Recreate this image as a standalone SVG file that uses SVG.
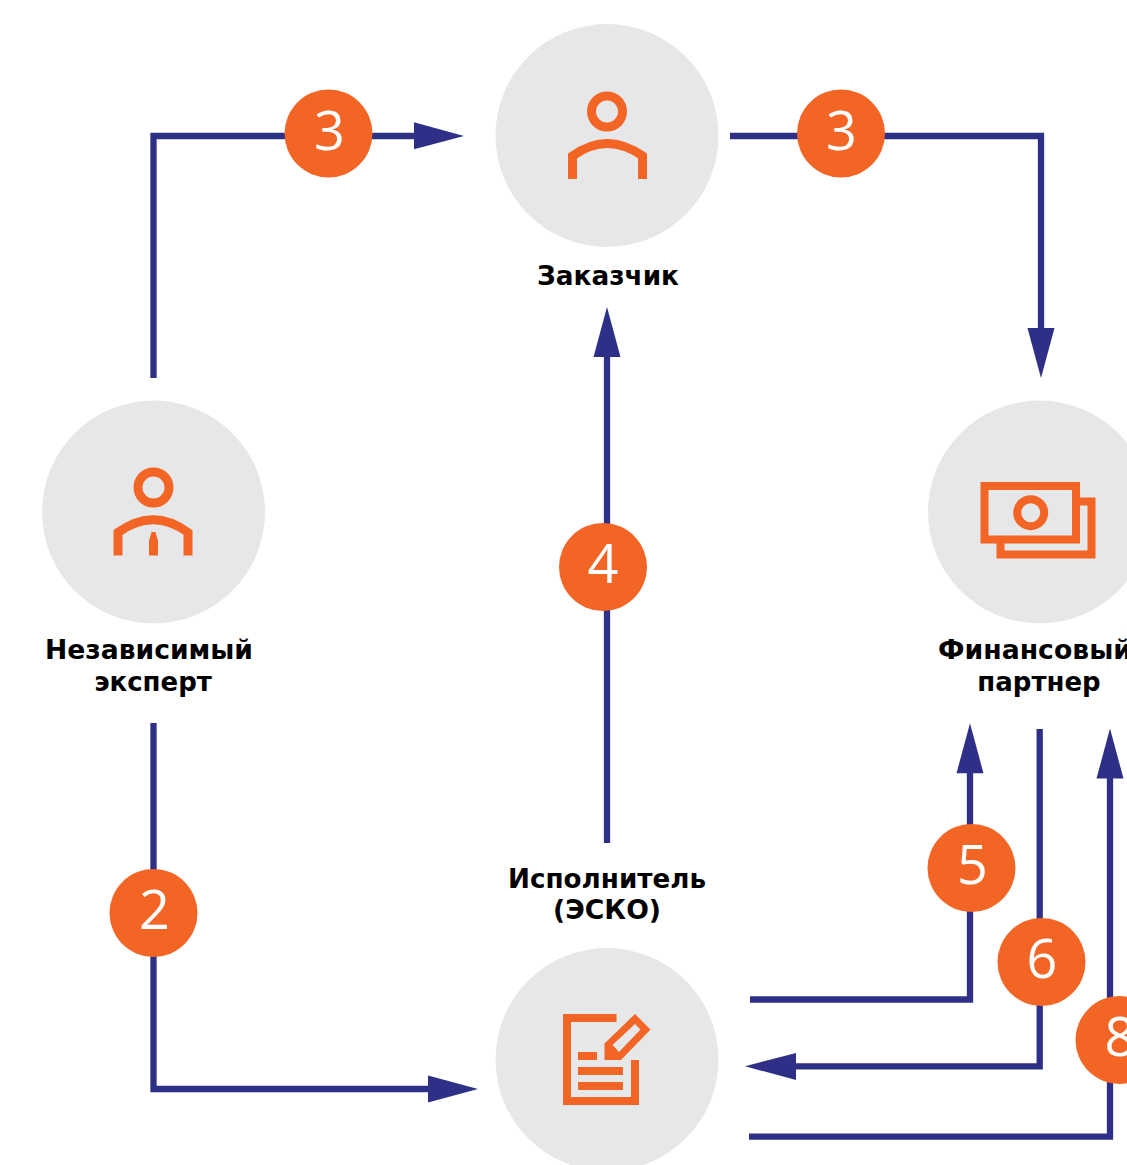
<svg xmlns="http://www.w3.org/2000/svg" width="1127" height="1165" viewBox="0 0 1127 1165">
<style>
.c{fill:#e6e7e8}
.i{fill:none;stroke:#f36525;stroke-width:8}
.f{fill:#f36525;stroke:none}
.l{font:bold 26px "DejaVu Sans",sans-serif;fill:#000;text-anchor:middle}
.n{font:54px "Open Sans","DejaVu Sans",sans-serif;fill:#fff;text-anchor:middle}
.w{fill:none;stroke:#2e3087;stroke-width:6.300}
.a{fill:#2e3087}
.b{fill:#f36525}
</style>
<rect width="1127" height="1165" fill="#fff"/>
<g id="connectors">
<path class="w" d="M153.500 378V136H415"/><path class="a" d="M464 136L414 122.300V149.300Z"/>
<path class="w" d="M730 136H1041V330"/><path class="a" d="M1041 378L1027.500 328H1054.500Z"/>
<path class="w" d="M607 843V355"/><path class="a" d="M607 307L593.500 357H620.500Z"/>
<path class="w" d="M153.500 723V1089H430"/><path class="a" d="M478 1089L428 1075.500V1102.500Z"/>
<path class="w" d="M750 999.500H970V772"/><path class="a" d="M970 723.300L956.500 773.300H983.500Z"/>
<path class="w" d="M1039.700 729V1066.300H795"/><path class="a" d="M745 1066.300L796 1053V1080Z"/>
<path class="w" d="M749 1136.700H1110V778"/><path class="a" d="M1110 728.500L1096.500 778.500H1123.500Z"/>
</g>
<g id="badge-3a"><circle class="b" cx="328.500" cy="133.500" r="44"/><text class="n" x="329.500" y="149.500">3</text></g>
<g id="badge-3b"><circle class="b" cx="841" cy="133.500" r="44"/><text class="n" x="841.500" y="149.500">3</text></g>
<g id="badge-4"><circle class="b" cx="603" cy="567" r="44"/><text class="n" x="603" y="583">4</text></g>
<g id="badge-2"><circle class="b" cx="153.500" cy="913" r="44"/><text class="n" x="154.500" y="929">2</text></g>
<g id="badge-5"><circle class="b" cx="971.500" cy="868" r="44"/><text class="n" x="972.500" y="884">5</text></g>
<g id="badge-6"><circle class="b" cx="1041.500" cy="962" r="44"/><text class="n" x="1042" y="978">6</text></g>
<g id="badge-8"><circle class="b" cx="1119.500" cy="1040" r="44"/><text class="n" x="1120" y="1056">8</text></g>
<g id="customer"><circle class="c" cx="607" cy="135.500" r="111.500"/>
<circle class="i" cx="607" cy="111.500" r="15.500" style="stroke-width:9"/>
<path class="i" style="stroke-width:9" d="M572.500 179V156Q607 131 642.500 156V179"/>
<text class="l" x="608" y="285" textLength="142" lengthAdjust="spacingAndGlyphs">Заказчик</text></g>
<g id="expert"><circle class="c" cx="153.500" cy="512" r="111.500"/>
<circle class="i" cx="153.500" cy="487.500" r="15.500" style="stroke-width:9"/>
<path class="i" style="stroke-width:9" d="M118 555.500V532.500Q153.500 507 188 532.500V555.500"/>
<path class="f" d="M149 555.500V541L151.500 532H155.500L158 541V555.500Z"/>
<text class="l" x="149" y="659" textLength="208" lengthAdjust="spacingAndGlyphs">Независимый</text><text class="l" x="153" y="691">эксперт</text></g>
<g id="finance"><circle class="c" cx="1039.500" cy="512" r="111.500"/>
<path class="i" d="M1076 501.500H1091.500V554.500H1000.500V543"/>
<rect class="i" x="984.500" y="486" width="91.500" height="53.500"/>
<circle class="i" cx="1030.700" cy="512.700" r="13.500"/>
<text class="l" x="1035" y="659" textLength="194" lengthAdjust="spacingAndGlyphs">Финансовый</text><text class="l" x="1039" y="691">партнер</text></g>
<g id="contractor"><circle class="c" cx="607" cy="1059.500" r="111.500"/>
<path class="i" d="M616.500 1018H567V1101H635V1060"/>
<rect class="f" x="578" y="1052" width="19" height="8"/>
<rect class="f" x="578" y="1067" width="45" height="8"/>
<rect class="f" x="578" y="1082" width="45" height="8"/>
<path class="f" fill-rule="evenodd" d="M604.500 1043.500L635 1014L650.500 1029.500L621 1060H604.500ZM612.500 1045L635 1024L640.500 1029.500L619 1052Z"/>
<text class="l" x="607" y="888" textLength="198" lengthAdjust="spacingAndGlyphs">Исполнитель</text><text class="l" x="607" y="919" textLength="108" lengthAdjust="spacingAndGlyphs">(ЭСКО)</text></g>
</svg>
